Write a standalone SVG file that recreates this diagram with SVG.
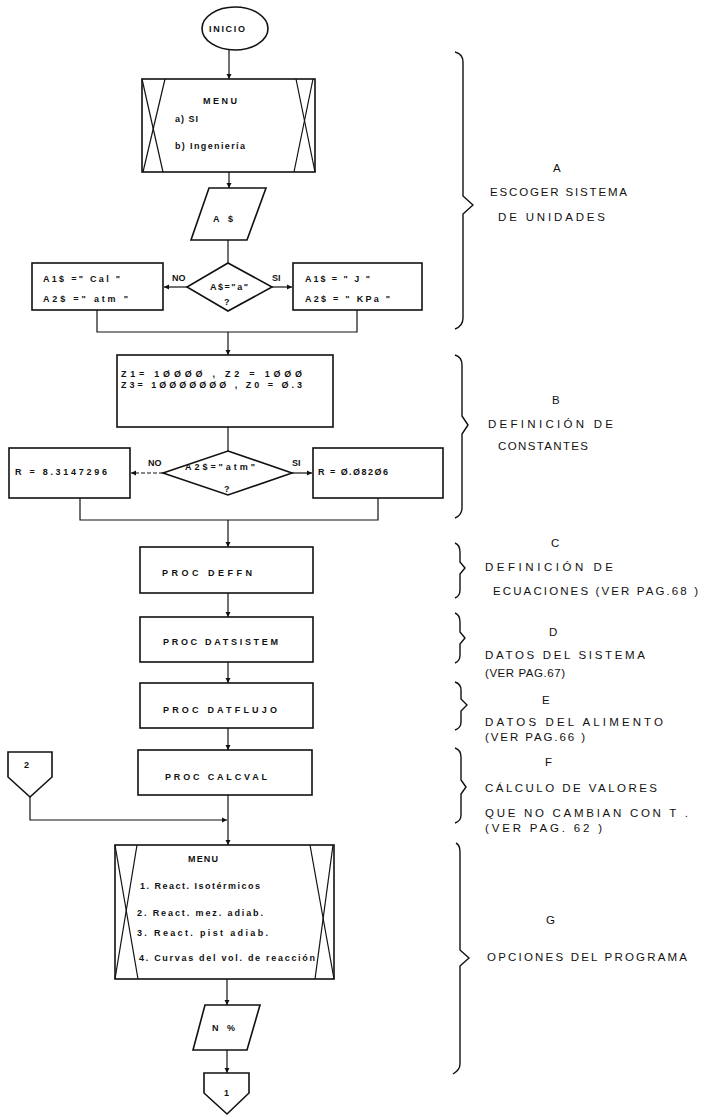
<svg xmlns="http://www.w3.org/2000/svg" width="703" height="1116" viewBox="0 0 703 1116">
  <style>
    .shape { fill: #fff; stroke: #111; stroke-width: 1.6; }
    .wire { fill: none; stroke: #111; stroke-width: 1.2; }
    .dash { fill: none; stroke: #111; stroke-width: 1.2; stroke-dasharray: 4 2; }
    .brace { fill: none; stroke: #111; stroke-width: 1.4; stroke-linejoin: round; }
    .t { font-family: "Liberation Sans", Arial, sans-serif; font-weight: bold; font-size: 9px; fill: #111; }
    .lbl { font-family: "Liberation Sans", Arial, sans-serif; font-size: 11.5px; fill: #111; }
  </style>
  <defs>
    <marker id="arrow" markerWidth="6" markerHeight="6" refX="5" refY="3" orient="auto" markerUnits="userSpaceOnUse">
      <path d="M0,0.5 L5,3 L0,5.5 Z" fill="#111"/>
    </marker>
  </defs>

  <rect width="703" height="1116" fill="#fff"/>

  <!-- connectors -->
  <g id="connectors">
    <line class="wire" x1="229" y1="50" x2="229" y2="79" marker-end="url(#arrow)"/>
    <line class="wire" x1="229" y1="172" x2="229" y2="188" marker-end="url(#arrow)"/>
    <line class="wire" x1="228" y1="240" x2="228" y2="263"/>
    <line class="wire" x1="187" y1="287" x2="164" y2="287" marker-end="url(#arrow)"/>
    <line class="wire" x1="272" y1="287" x2="292" y2="287" marker-end="url(#arrow)"/>
    <polyline class="wire" points="97,310 97,332 357,332 357,310"/>
    <line class="wire" x1="228" y1="332" x2="228" y2="355" marker-end="url(#arrow)"/>
    <line class="wire" x1="228" y1="427" x2="228" y2="451"/>
    <line class="dash" x1="163" y1="473" x2="131" y2="473" marker-end="url(#arrow)"/>
    <line class="wire" x1="292" y1="473" x2="312" y2="473" marker-end="url(#arrow)"/>
    <polyline class="wire" points="80,498 80,520 378,520 378,498"/>
    <line class="wire" x1="228" y1="520" x2="228" y2="547" marker-end="url(#arrow)"/>
    <line class="wire" x1="228" y1="593" x2="228" y2="617" marker-end="url(#arrow)"/>
    <line class="wire" x1="228" y1="662" x2="228" y2="683" marker-end="url(#arrow)"/>
    <line class="wire" x1="228" y1="728" x2="228" y2="750" marker-end="url(#arrow)"/>
    <line class="wire" x1="228" y1="795" x2="228" y2="845" marker-end="url(#arrow)"/>
    <polyline class="wire" points="30,797 30,820 227,820" marker-end="url(#arrow)"/>
    <line class="wire" x1="227" y1="979" x2="227" y2="1005" marker-end="url(#arrow)"/>
    <line class="wire" x1="227" y1="1050" x2="227" y2="1073" marker-end="url(#arrow)"/>
  </g>

  <!-- start -->
  <g id="inicio">
    <ellipse class="shape" cx="235" cy="28.5" rx="33" ry="21.5"/>
    <text class="t" x="209" y="32" textLength="36" lengthAdjust="spacing">INICIO</text>
  </g>

  <!-- first menu -->
  <g id="menu-unidades">
    <rect class="shape" x="142" y="79" width="173" height="93"/>
    <polyline class="wire" points="142,79 163,172"/>
    <polyline class="wire" points="165,79 143,172"/>
    <polyline class="wire" points="296,79 315,172"/>
    <polyline class="wire" points="313,79 294,172"/>
    <text class="t" x="203" y="104" textLength="34" lengthAdjust="spacing">MENU</text>
    <text class="t" x="175" y="122" textLength="23" lengthAdjust="spacing">a) SI</text>
    <text class="t" x="175" y="149" textLength="70" lengthAdjust="spacing">b) Ingeniería</text>
  </g>

  <g id="input-a">
    <polygon class="shape" points="209,188 266,188 247,240 191,240"/>
    <text class="t" x="213" y="222" textLength="20" lengthAdjust="spacing">A $</text>
  </g>

  <g id="decision-a">
    <polygon class="shape" points="228,263 272,287 228,311 187,287"/>
    <text class="t" x="210" y="290" textLength="38" lengthAdjust="spacing">A$="a"</text>
    <text class="t" x="224" y="305">?</text>
    <text class="t" x="172" y="281">NO</text>
    <text class="t" x="272" y="281">SI</text>
  </g>

  <g id="units-ing">
    <rect class="shape" x="32" y="263" width="131" height="47"/>
    <text class="t" x="43" y="282" textLength="77" lengthAdjust="spacing">A1$ =" Cal "</text>
    <text class="t" x="43" y="302" textLength="85" lengthAdjust="spacing">A2$ =" atm "</text>
  </g>

  <g id="units-si">
    <rect class="shape" x="293" y="263" width="129" height="47"/>
    <text class="t" x="305" y="282" textLength="65" lengthAdjust="spacing">A1$ = " J "</text>
    <text class="t" x="305" y="302" textLength="85" lengthAdjust="spacing">A2$ = " KPa "</text>
  </g>

  <!-- constants -->
  <g id="constantes">
    <rect class="shape" x="117" y="355" width="216" height="72"/>
    <text class="t" x="121" y="377" textLength="181" lengthAdjust="spacing">Z1= 1ØØØØ , Z2 = 1ØØØ</text>
    <text class="t" x="121" y="388" textLength="181" lengthAdjust="spacing">Z3= 1ØØØØØØØ , Z0 = Ø.3</text>
  </g>

  <g id="decision-r">
    <polygon class="shape" points="228,451 292,473 228,495 163,473"/>
    <text class="t" x="185" y="470" textLength="70" lengthAdjust="spacing">A2$="atm"</text>
    <text class="t" x="224" y="492">?</text>
    <text class="t" x="148" y="466">NO</text>
    <text class="t" x="292" y="466">SI</text>
  </g>

  <g id="r-ing">
    <rect class="shape" x="9" y="448" width="121" height="50"/>
    <text class="t" x="15" y="475" textLength="92" lengthAdjust="spacing">R = 8.3147296</text>
  </g>

  <g id="r-si">
    <rect class="shape" x="313" y="448" width="130" height="50"/>
    <text class="t" x="318" y="475" textLength="70" lengthAdjust="spacing">R = Ø.Ø82Ø6</text>
  </g>

  <!-- procedures -->
  <g id="proc-deffn">
    <rect class="shape" x="140" y="547" width="173" height="46"/>
    <text class="t" x="162" y="576" textLength="90" lengthAdjust="spacing">PROC   DEFFN</text>
  </g>
  <g id="proc-datsistem">
    <rect class="shape" x="140" y="617" width="173" height="45"/>
    <text class="t" x="163" y="645" textLength="115" lengthAdjust="spacing">PROC   DATSISTEM</text>
  </g>
  <g id="proc-datflujo">
    <rect class="shape" x="140" y="683" width="173" height="45"/>
    <text class="t" x="163" y="713" textLength="114" lengthAdjust="spacing">PROC   DATFLUJO</text>
  </g>
  <g id="proc-calcval">
    <rect class="shape" x="138" y="750" width="174" height="45"/>
    <text class="t" x="165" y="780" textLength="102" lengthAdjust="spacing">PROC    CALCVAL</text>
  </g>

  <g id="conector-2">
    <polygon class="shape" points="8,752 52,752 52,777 30,797 8,777"/>
    <text class="t" x="24" y="768">2</text>
  </g>

  <!-- program options menu -->
  <g id="menu-opciones">
    <rect class="shape" x="115" y="845" width="219" height="134"/>
    <polyline class="wire" points="115,845 138,979"/>
    <polyline class="wire" points="137,845 115,979"/>
    <polyline class="wire" points="310,845 334,979"/>
    <polyline class="wire" points="333,845 315,979"/>
    <text class="t" x="188" y="862" textLength="30" lengthAdjust="spacing">MENU</text>
    <text class="t" x="140" y="889" textLength="120" lengthAdjust="spacing">1. React.  Isotérmicos</text>
    <text class="t" x="137" y="916" textLength="126" lengthAdjust="spacing">2. React.  mez.  adiab.</text>
    <text class="t" x="137" y="936" textLength="131" lengthAdjust="spacing">3.  React.  pist  adiab.</text>
    <text class="t" x="139" y="961" textLength="176" lengthAdjust="spacing">4.  Curvas  del  vol. de reacción</text>
  </g>

  <g id="input-n">
    <polygon class="shape" points="205,1005 260,1005 247,1050 193,1050"/>
    <text class="t" x="212" y="1031" textLength="23" lengthAdjust="spacing">N %</text>
  </g>

  <g id="conector-1">
    <polygon class="shape" points="204,1073 249,1073 249,1093 227,1114 204,1093"/>
    <text class="t" x="224" y="1096">1</text>
  </g>

  <!-- section braces and notes -->
  <g id="seccion-a">
    <path class="brace" d="M455,52 Q463,54 463,62 L463,196 L473,205 L463,214 L463,318 Q463,326 455,329"/>
    <text class="lbl" x="553" y="172">A</text>
    <text class="lbl" x="490" y="196" textLength="137" lengthAdjust="spacing">ESCOGER  SISTEMA</text>
    <text class="lbl" x="498" y="221" textLength="107" lengthAdjust="spacing">DE   UNIDADES</text>
  </g>
  <g id="seccion-b">
    <path class="brace" d="M455,355 Q462,357 462,365 L462,416 L468,425 L462,434 L462,508 Q462,515 455,518"/>
    <text class="lbl" x="552" y="404">B</text>
    <text class="lbl" x="488" y="428" textLength="125" lengthAdjust="spacing">DEFINICIÓN      DE</text>
    <text class="lbl" x="498" y="450" textLength="90" lengthAdjust="spacing">CONSTANTES</text>
  </g>
  <g id="seccion-c">
    <path class="brace" d="M455,543 Q460,545 460,552 L460,562 L465,568 L460,574 L460,590 Q460,596 455,598"/>
    <text class="lbl" x="551" y="547">C</text>
    <text class="lbl" x="485" y="571" textLength="128" lengthAdjust="spacing">DEFINICIÓN      DE</text>
    <text class="lbl" x="493" y="595" textLength="205" lengthAdjust="spacing">ECUACIONES (VER PAG.68 )</text>
  </g>
  <g id="seccion-d">
    <path class="brace" d="M455,613 Q460,615 460,622 L460,632 L465,638 L460,644 L460,655 Q460,661 455,663"/>
    <text class="lbl" x="549" y="636">D</text>
    <text class="lbl" x="485" y="659" textLength="160" lengthAdjust="spacing">DATOS  DEL  SISTEMA</text>
    <text class="lbl" x="485" y="677" textLength="80" lengthAdjust="spacing">(VER PAG.67)</text>
  </g>
  <g id="seccion-e">
    <path class="brace" d="M455,682 Q461,684 461,690 L461,699 L467,705 L461,711 L461,722 Q461,728 455,730"/>
    <text class="lbl" x="542" y="704">E</text>
    <text class="lbl" x="485" y="726" textLength="178" lengthAdjust="spacing">DATOS  DEL  ALIMENTO</text>
    <text class="lbl" x="485" y="741" textLength="100" lengthAdjust="spacing">(VER PAG.66 )</text>
  </g>
  <g id="seccion-f">
    <path class="brace" d="M455,748 Q461,750 461,757 L461,780 L466,787 L461,794 L461,815 Q461,821 455,823"/>
    <text class="lbl" x="545" y="766">F</text>
    <text class="lbl" x="485" y="792" textLength="172" lengthAdjust="spacing">CÁLCULO  DE  VALORES</text>
    <text class="lbl" x="485" y="817" textLength="203" lengthAdjust="spacing">QUE  NO  CAMBIAN  CON  T .</text>
    <text class="lbl" x="485" y="832" textLength="117" lengthAdjust="spacing">(VER PAG. 62 )</text>
  </g>
  <g id="seccion-g">
    <path class="brace" d="M456,843 Q460,845 460,852 L460,950 L469,958 L460,966 L460,1064 Q460,1070 453,1074"/>
    <text class="lbl" x="546" y="924">G</text>
    <text class="lbl" x="487" y="961" textLength="200" lengthAdjust="spacing">OPCIONES  DEL  PROGRAMA</text>
  </g>
</svg>
